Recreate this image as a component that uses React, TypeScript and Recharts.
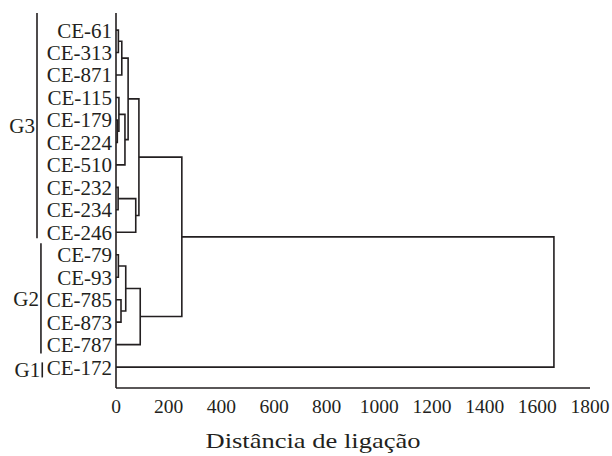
import { ScatterChart, Scatter, XAxis, YAxis, ReferenceLine } from 'recharts';

const leaves = [
  'CE-61', 'CE-313', 'CE-871', 'CE-115', 'CE-179', 'CE-224', 'CE-510', 'CE-232',
  'CE-234', 'CE-246', 'CE-79', 'CE-93', 'CE-785', 'CE-873', 'CE-787', 'CE-172',
];

// linkage: [child a, child b, distance]; ids >= leaves.length point to earlier merges
const linkage: [number, number, number][] = [
  [4, 5, 5],       // 16
  [0, 1, 9],       // 17
  [7, 8, 8],       // 18
  [10, 11, 9],     // 19
  [3, 16, 11],     // 20
  [12, 13, 19],    // 21
  [17, 2, 22],     // 22
  [20, 6, 34],     // 23
  [19, 21, 37],    // 24
  [22, 23, 46],    // 25
  [18, 9, 75],     // 26
  [25, 26, 87],    // 27
  [24, 14, 92],    // 28
  [27, 28, 250],   // 29
  [29, 15, 1663],  // 30
];

const distanceTicks = [0, 200, 400, 600, 800, 1000, 1200, 1400, 1600, 1800];

const groupNames = ['G3', 'G2', 'G1'];
const groupFirstLeaf = [0, 10, 15];
const groupLastLeaf = [9, 14, 15];

const INK = '#231f20';
const FONT = '"Liberation Serif", "Times New Roman", serif';

// build the U-shaped link for each merge
const nodeY: number[] = leaves.map((_, i) => i);
const nodeH: number[] = leaves.map(() => 0);
const links = linkage.map(([a, b, d]) => {
  const pts = [
    { x: nodeH[a], y: nodeY[a] },
    { x: d, y: nodeY[a] },
    { x: d, y: nodeY[b] },
    { x: nodeH[b], y: nodeY[b] },
  ];
  nodeY.push((nodeY[a] + nodeY[b]) / 2);
  nodeH.push(d);
  return pts;
});

// bracket extents / x positions for the group marks left of the labels
const groupPad = [[-0.76, 0.27], [-0.51, 0.39], [-0.21, 0.46]];
const groupX = [-300, -285, -280];

const noDot = () => <g />;

export default function App() {
  return (
    <div style={{ fontFamily: FONT, position: 'absolute', left: 0, top: 0 }}>
      <ScatterChart width={612} height={456} margin={{ top: 13, right: 22, bottom: 38, left: 16 }}>
        <XAxis
          dataKey="x"
          type="number"
          domain={[0, 1800]}
          ticks={distanceTicks}
          interval={0}
          height={30}
          tickLine={false}
          tickSize={6}
          tickMargin={5}
          axisLine={{ stroke: INK, strokeWidth: 1.6 }}
          tick={{ fill: INK, fontSize: 19.5, fontFamily: FONT }}
          label={(props: any) => {
            const vb = props.viewBox || { x: 116, y: 388, width: 474, height: 30 };
            return (
              <text
                x={vb.x + vb.width / 2 - 40}
                y={vb.y + 60}
                textAnchor="middle"
                fontSize={22}
                fontFamily={FONT}
                fill={INK}
                textLength={215}
                lengthAdjust="spacingAndGlyphs"
              >
                Distância de ligação
              </text>
            );
          }}
        />
        <YAxis
          dataKey="y"
          type="number"
          domain={[-0.76, 15.93]}
          reversed
          ticks={leaves.map((_, i) => i)}
          interval={0}
          width={100}
          tickLine={false}
          tickSize={2}
          tickMargin={2}
          tickFormatter={(v: number) => leaves[v] ?? ''}
          axisLine={{ stroke: INK, strokeWidth: 1.6 }}
          tick={{ fill: INK, fontSize: 21, fontFamily: FONT }}
        />
        {links.map((pts, i) => (
          <Scatter
            key={i}
            data={pts}
            line={{ stroke: INK, strokeWidth: 1.6 }}
            lineType="joint"
            shape={noDot}
            legendType="none"
            isAnimationActive={false}
          />
        ))}
        {groupNames.map((g, i) => (
          <ReferenceLine
            key={g}
            ifOverflow="visible"
            segment={[
              { x: groupX[i], y: groupFirstLeaf[i] + groupPad[i][0] },
              { x: groupX[i], y: groupLastLeaf[i] + groupPad[i][1] },
            ]}
            stroke={INK}
            strokeWidth={1.6}
            label={{ value: g, position: 'left', offset: 2, fill: INK, fontSize: 21, fontFamily: FONT }}
          />
        ))}
      </ScatterChart>
    </div>
  );
}
